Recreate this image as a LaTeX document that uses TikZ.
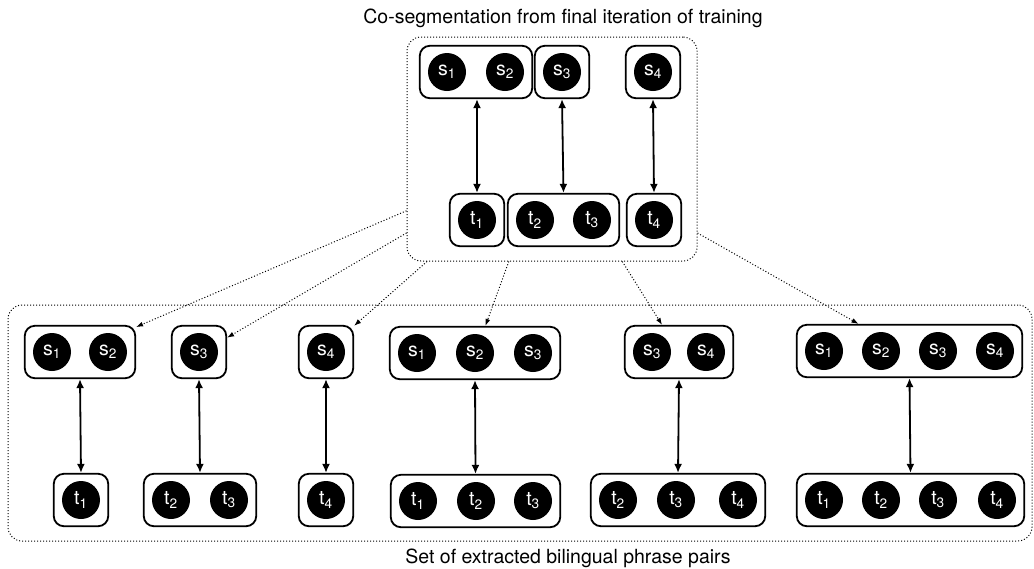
\documentclass[tikz,border=0pt]{standalone}
\usepackage{fontspec}
\setmainfont{TeX Gyre Heros}
\usetikzlibrary{fit,arrows.meta}

\begin{document}
\begin{tikzpicture}[x=1pt, y=-1pt, font=\fontsize{19.5}{22}\selectfont,
  tok/.style={circle, fill=black, text=white, minimum size=38pt, inner sep=0pt, font=\fontsize{19.5}{20}\selectfont},
  grp/.style={draw, line width=1.8pt, rounded corners=10pt, inner xsep=8pt, inner ysep=7pt},
  dotframe/.style={draw, dotted, line width=1pt, rounded corners=14pt, inner sep=0pt},
  link/.style={{Latex[length=9pt,width=8pt]}-{Latex[length=9pt,width=8pt]}, line width=1.8pt},
  pick/.style={-{Latex[length=7pt,width=5pt]}, dotted, line width=1pt}]
  \useasboundingbox (0,0) rectangle (1034,568);

  % Co-segmentation from the last iteration
  \node[dotframe, minimum width=290pt, minimum height=224pt] (cur) at (552,149) {};
  \node (curlabel) at (563,18) {Co-segmentation from final iteration of training};

  \node[tok] (s1) at (447,72) {s\textsubscript{1}};
  \node[tok] (s2) at (505,72) {s\textsubscript{2}};
  \node[tok] (s3) at (562,72) {s\textsubscript{3}};
  \node[tok] (s4) at (653,72) {s\textsubscript{4}};
  \node[tok] (t1) at (477,220) {t\textsubscript{1}};
  \node[tok] (t2) at (535,220) {t\textsubscript{2}};
  \node[tok] (t3) at (592,220) {t\textsubscript{3}};
  \node[tok] (t4) at (654,220) {t\textsubscript{4}};

  \node[grp, fit=(s1)(s2)] (S12) {};
  \node[grp, fit=(s3)] (S3) {};
  \node[grp, fit=(s4)] (S4) {};
  \node[grp, fit=(t1)] (T1) {};
  \node[grp, fit=(t2)(t3)] (T23) {};
  \node[grp, fit=(t4)] (T4) {};

  \draw[link] (S12.south -| T1.north) -- (T1.north);
  \draw[link] (S3.south) -- (T23.north);
  \draw[link] (S4.south) -- (T4.north);

  % Set of extracted phrase pairs
  \node[dotframe, minimum width=1024pt, minimum height=236pt] (set) at (520,423) {};
  \node (setlabel) at (568,558) {Set of extracted bilingual phrase pairs};

  % pair 1
  \node[tok] (p1s1) at (52,352) {s\textsubscript{1}};
  \node[tok] (p1s2) at (108,352) {s\textsubscript{2}};
  \node[tok] (p1t1) at (81,500) {t\textsubscript{1}};
  \node[grp, fit=(p1s1)(p1s2)] (p1s) {};
  \node[grp, fit=(p1t1)] (p1t) {};
  \draw[link] (p1s.south) -- (p1t.north);

  % pair 2
  \node[tok] (p2s3) at (199,352) {s\textsubscript{3}};
  \node[tok] (p2t2) at (171,500) {t\textsubscript{2}};
  \node[tok] (p2t3) at (229,500) {t\textsubscript{3}};
  \node[grp, fit=(p2s3)] (p2s) {};
  \node[grp, fit=(p2t2)(p2t3)] (p2t) {};
  \draw[link] (p2s.south) -- (p2t.north);

  % pair 3
  \node[tok] (p3s4) at (326,352) {s\textsubscript{4}};
  \node[tok] (p3t4) at (326,500) {t\textsubscript{4}};
  \node[grp, fit=(p3s4)] (p3s) {};
  \node[grp, fit=(p3t4)] (p3t) {};
  \draw[link] (p3s.south) -- (p3t.north);

  % pair 4
  \node[tok] (p4s1) at (417,353) {s\textsubscript{1}};
  \node[tok] (p4s2) at (475,353) {s\textsubscript{2}};
  \node[tok] (p4s3) at (533,353) {s\textsubscript{3}};
  \node[tok] (p4t1) at (418,501) {t\textsubscript{1}};
  \node[tok] (p4t2) at (476,501) {t\textsubscript{2}};
  \node[tok] (p4t3) at (533,501) {t\textsubscript{3}};
  \node[grp, fit=(p4s1)(p4s3)] (p4s) {};
  \node[grp, fit=(p4t1)(p4t3)] (p4t) {};
  \draw[link] (p4s.south) -- (p4t.north);

  % pair 5
  \node[tok] (p5s3) at (652,352) {s\textsubscript{3}};
  \node[tok] (p5s4) at (706,352) {s\textsubscript{4}};
  \node[tok] (p5t2) at (618,500) {t\textsubscript{2}};
  \node[tok] (p5t3) at (676,500) {t\textsubscript{3}};
  \node[tok] (p5t4) at (738,500) {t\textsubscript{4}};
  \node[grp, fit=(p5s3)(p5s4)] (p5s) {};
  \node[grp, fit=(p5t2)(p5t4)] (p5t) {};
  \draw[link] (p5s.south) -- (p5t.north);

  % pair 6
  \node[tok] (p6s1) at (824,351) {s\textsubscript{1}};
  \node[tok] (p6s2) at (881,351) {s\textsubscript{2}};
  \node[tok] (p6s3) at (938,351) {s\textsubscript{3}};
  \node[tok] (p6s4) at (995,351) {s\textsubscript{4}};
  \node[tok] (p6t1) at (824,500) {t\textsubscript{1}};
  \node[tok] (p6t2) at (881,500) {t\textsubscript{2}};
  \node[tok] (p6t3) at (938,500) {t\textsubscript{3}};
  \node[tok] (p6t4) at (997,500) {t\textsubscript{4}};
  \node[grp, fit=(p6s1)(p6s4)] (p6s) {};
  \node[grp, fit=(p6t1)(p6t4)] (p6t) {};
  \draw[link] (p6s.south) -- (p6t.north);

  % extraction arrows
  \draw[pick] (cur.203) -- (p1s.24);
  \draw[pick] (cur.210) -- (p2s.27);
  \draw[pick] (cur.222) -- (p3s.43);
  \draw[pick] (cur.249) -- (p4s.69);
  \draw[pick] (cur.302) -- (p5s.122);
  \draw[pick] (cur.330) -- (p6s.152);

\end{tikzpicture}
\end{document}
